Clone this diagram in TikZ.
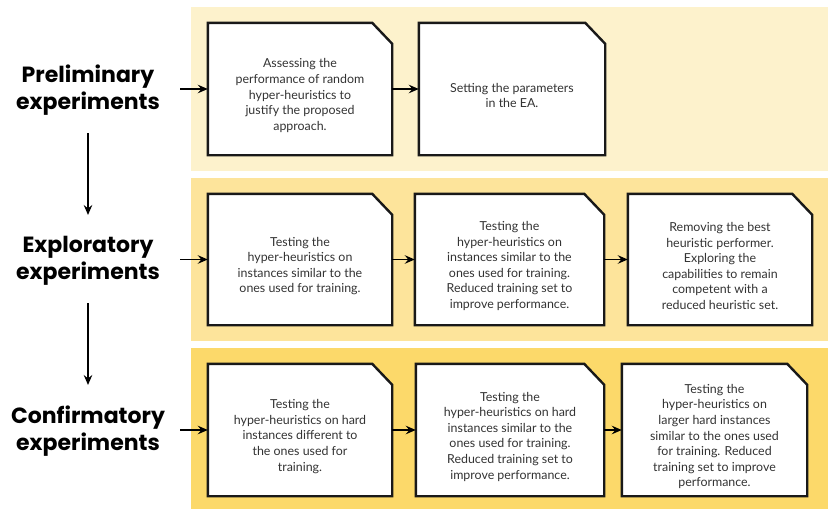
\documentclass[tikz,border=0pt]{standalone}
\usepackage{fontspec}
\setmainfont{Poppins}
\newfontfamily\bodyfont{Lato}
\usetikzlibrary{arrows.meta,calc}
\pgfdeclarelayer{bands}
\pgfdeclarelayer{boxes}
\pgfsetlayers{bands,boxes,main}

\definecolor{bandA}{RGB}{253,242,204}
\definecolor{bandB}{RGB}{253,228,155}
\definecolor{bandC}{RGB}{252,217,106}

\tikzset{
  stage/.style={font=\fontsize{22}{27.5}\selectfont\bfseries, align=center, text=black},
  boxtext/.style={font=\bodyfont\fontsize{12.4}{15.6}\selectfont, align=center, text=black!80, inner sep=0pt},
  frame/.style={minimum height=132pt, inner sep=0pt},
  link/.style={-{Stealth[length=10pt,width=8.5pt,inset=3.5pt]}, line width=1.6pt},
  cutline/.style={fill=white, draw=black!90, line width=2.4pt, line join=miter},
}

% chamfered white box behind a frame node
\newcommand\cutbox[1]{%
  \begin{pgfonlayer}{boxes}
    \draw[cutline] (#1.south west) -- (#1.north west) -- ([xshift=-20pt]#1.north east)
      -- ([yshift=-21pt]#1.north east) -- (#1.south east) -- cycle;
  \end{pgfonlayer}}

\begin{document}
\begin{tikzpicture}[x=1pt,y=-1pt]
\useasboundingbox (0,0) rectangle (831,509);

% page and phase bands
\begin{pgfonlayer}{bands}
  \fill[white] (0,0) rectangle (831,509);
  \fill[bandA] (191,7) rectangle (828,171);
  \fill[bandB] (191,178) rectangle (828,341);
  \fill[bandC] (191,348) rectangle (828,509);
\end{pgfonlayer}

% phase labels
\node[stage] (pre) at (88,90) {Preliminary\\experiments};
\node[stage] (exp) at (88,261) {Exploratory\\experiments};
\node[stage] (con) at (88,431) {Confirmatory\\experiments};

% frames
\node[frame, minimum width=184pt] (a) at (300,89) {};
\node[frame, minimum width=186pt] (b) at (512,89) {};
\node[frame, minimum width=184pt, minimum height=131pt] (c) at (300,259.5) {};
\node[frame, minimum width=189pt, minimum height=131pt] (d) at (509.5,259.5) {};
\node[frame, minimum width=184pt, minimum height=131pt] (e) at (720,259.5) {};
\node[frame, minimum width=184pt] (f) at (300,430) {};
\node[frame, minimum width=188pt] (g) at (510,430) {};
\node[frame, minimum width=185pt] (h) at (714.5,430) {};
\foreach \n in {a,b,c,d,e,f,g,h} {\cutbox{\n}}

% texts
\node[boxtext] (ta) at ([yshift=-6.5pt]a.center) {Assessing the\\performance of random\\hyper-heuristics to\\justify the proposed\\approach.};
\node[boxtext] (tb) at ([yshift=-6.5pt]b.center) {Setting the parameters\\in the EA.};
\node[boxtext] (tc) at ([yshift=-6.5pt]c.center) {Testing the\\hyper-heuristics on\\instances similar to the\\ones used for training.};
\node[boxtext] (td) at ([yshift=-6.5pt]d.center) {Testing the\\hyper-heuristics on\\instances similar to the\\ones used for training.\\Reduced training set to\\improve performance.};
\node[boxtext] (te) at ([yshift=-6.5pt]e.center) {Removing the best\\heuristic performer.\\Exploring the\\capabilities to remain\\competent with a\\reduced heuristic set.};
\node[boxtext] (tf) at ([yshift=-6.5pt]f.center) {Testing the\\hyper-heuristics on hard\\instances different to\\the ones used for\\training.};
\node[boxtext] (tg) at ([yshift=-6.5pt]g.center) {Testing the\\hyper-heuristics on hard\\instances similar to the\\ones used for training.\\Reduced training set to\\improve performance.};
\node[boxtext] (th) at ([yshift=-6.5pt]h.center) {Testing the\\hyper-heuristics on\\larger hard instances\\similar to the ones used\\for training. Reduced\\training set to improve\\performance.};

% connector ends
\coordinate (in1) at (180,89);
\coordinate (in2) at (180,259.5);
\coordinate (in3) at (180,430);
\coordinate (v1s) at (88,133);
\coordinate (v1e) at (88,215);
\coordinate (v2s) at (88,303);
\coordinate (v2e) at (88,385);

% connectors
\draw[link] (in1) -- (a.west);
\draw[link] (a.east) -- (b.west);
\draw[link] (in2) -- (c.west);
\draw[link] (c.east) -- (d.west);
\draw[link] (d.east) -- (e.west);
\draw[link] (in3) -- (f.west);
\draw[link] (f.east) -- (g.west);
\draw[link] (g.east) -- (h.west);
\draw[link] (v1s) -- (v1e);
\draw[link] (v2s) -- (v2e);
\end{tikzpicture}
\end{document}
